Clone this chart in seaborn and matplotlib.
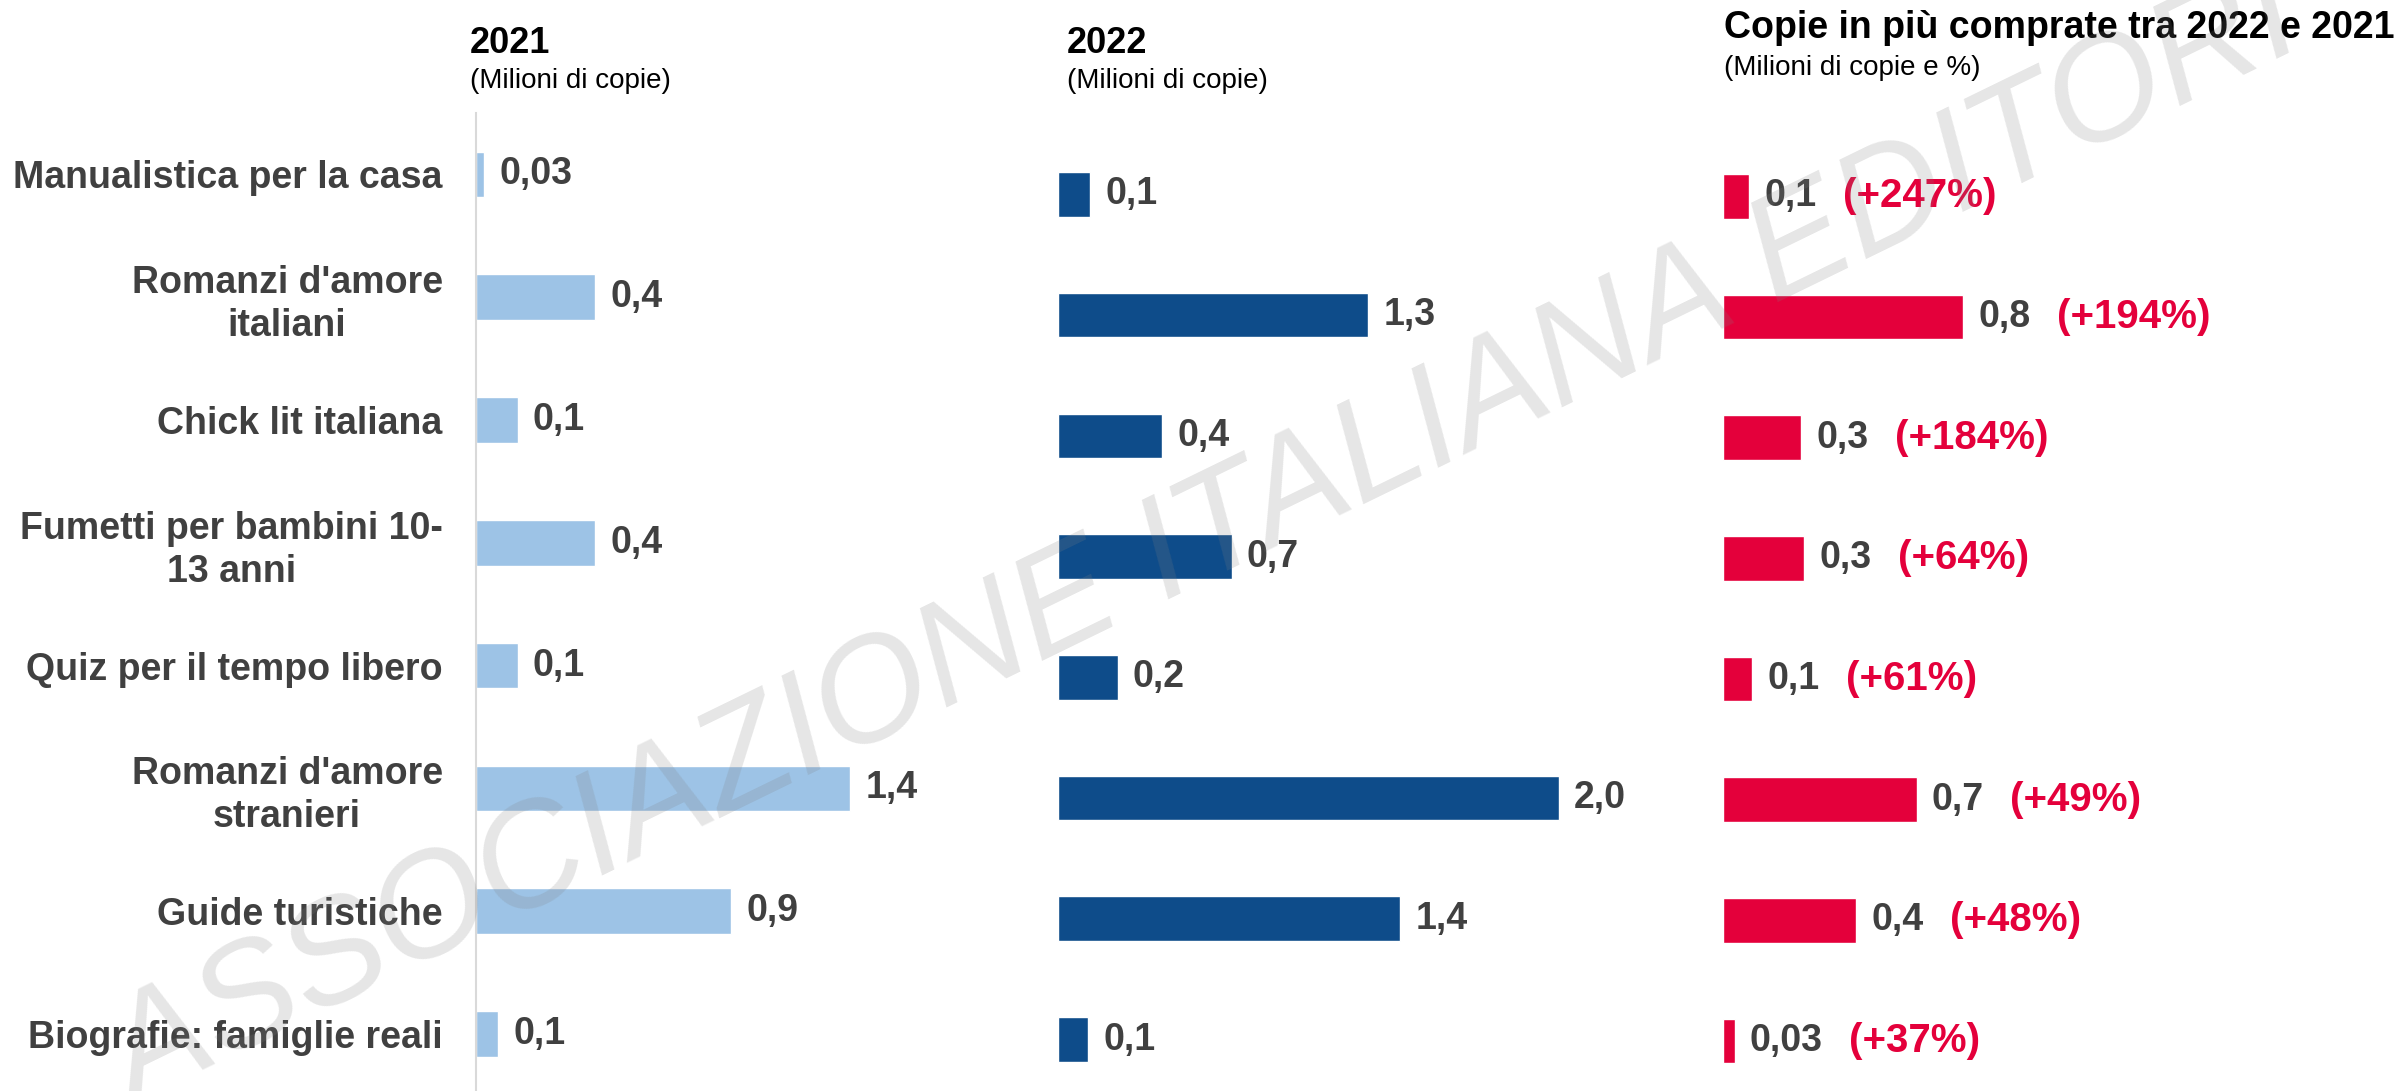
import matplotlib
matplotlib.use("Agg")
import matplotlib.pyplot as plt
import pandas as pd
import seaborn as sns

# values (millions of copies)
categories = ["Manualistica per la casa", "Romanzi d'amore\nitaliani", "Chick lit italiana",
              "Fumetti per bambini 10-\n13 anni", "Quiz per il tempo libero",
              "Romanzi d'amore\nstranieri", "Guide turistiche", "Biografie: famiglie reali"]
copies_2021 = [0.03, 0.43, 0.15, 0.43, 0.15, 1.35, 0.92, 0.08]
copies_2022 = [0.13, 1.25, 0.42, 0.70, 0.24, 2.02, 1.38, 0.12]
extra_copies = [0.09, 0.83, 0.27, 0.28, 0.10, 0.67, 0.46, 0.04]
labels_2021 = ["0,03", "0,4", "0,1", "0,4", "0,1", "1,4", "0,9", "0,1"]
labels_2022 = ["0,1", "1,3", "0,4", "0,7", "0,2", "2,0", "1,4", "0,1"]
labels_extra = ["0,1", "0,8", "0,3", "0,3", "0,1", "0,7", "0,4", "0,03"]
pct_extra = ["(+247%)", "(+194%)", "(+184%)", "(+64%)", "(+61%)", "(+49%)", "(+48%)", "(+37%)"]

GREY = "#404040"
RED = "#E4003B"

sns.set_style("white")
plt.rcParams["font.family"] = ["Liberation Sans", "DejaVu Sans"]

df = pd.DataFrame({"categoria": categories, "2021": copies_2021,
                   "2022": copies_2022, "diff": extra_copies})

fig = plt.figure(figsize=(23.97, 10.91), dpi=100)


def bar_panel(rect, col, colour, xmax, labels):
    """One horizontal bar panel with its own x scale."""
    ax = fig.add_axes(rect)
    sns.barplot(data=df, x=col, y="categoria", color=colour, width=0.37,
                saturation=1, ax=ax)
    ax.set_xlim(0, xmax)
    ax.set_ylim(7.5, -0.5)
    ax.set_xlabel("")
    ax.set_ylabel("")
    ax.set_xticks([])
    ax.set_yticks([])
    for s in ax.spines.values():
        s.set_visible(False)
    ax.patch.set_alpha(0)
    texts = ax.bar_label(ax.containers[0], labels=labels, padding=11,
                         fontsize=27, fontweight="bold", color=GREY)
    return ax, texts


ax1, _ = bar_panel([0.1986, -0.004, 0.2186, 0.9004], "2021", "#9DC3E6", 1.892, labels_2021)
ax2, _ = bar_panel([0.4414, -0.0082, 0.2678, 0.8854], "2022", "#0E4C8A", 2.589, labels_2022)
ax3, texts3 = bar_panel([0.7188, -0.0095, 0.2812, 0.8847], "diff", RED, 2.332, labels_extra)

# left axis of the first panel with category labels and separator ticks
ax1.spines["left"].set_visible(True)
ax1.spines["left"].set_color("#D9D9D9")
ax1.spines["left"].set_linewidth(1.5)
ax1.set_yticks(range(len(categories)), categories)
ax1.set_yticks([i - 0.5 for i in range(len(categories) + 1)], minor=True)
ax1.tick_params(axis="y", which="major", length=0, pad=24, labelsize=27, labelcolor=GREY)
ax1.tick_params(axis="y", which="minor", length=8, width=1.5, color="#D9D9D9")
for t in ax1.get_yticklabels():
    t.set_fontweight("bold")
    t.set_multialignment("center")
    t.set_linespacing(1.25)

# percentage change next to the value labels
for txt, pct in zip(texts3, pct_extra):
    ax3.annotate(pct, xy=(1, 0.5), xycoords=txt, xytext=(19, 0),
                 textcoords="offset points", ha="left", va="center",
                 fontsize=29, fontweight="bold", color=RED)

# panel headings
fig.text(0.1961, 0.9514, "2021", fontsize=26, fontweight="bold", color="black", va="baseline")
fig.text(0.1961, 0.9193, "(Milioni di copie)", fontsize=20, color="black", va="baseline")
fig.text(0.4451, 0.9514, "2022", fontsize=26, fontweight="bold", color="black", va="baseline")
fig.text(0.4451, 0.9193, "(Milioni di copie)", fontsize=20, color="black", va="baseline")
fig.text(0.7192, 0.9652, "Copie in più comprate tra 2022 e 2021", fontsize=27,
         fontweight="bold", color="black", va="baseline")
fig.text(0.7192, 0.9313, "(Milioni di copie e %)", fontsize=20, color="black", va="baseline")

# watermark
fig.text(0.503, 0.503, "ASSOCIAZIONE ITALIANA EDITORI", fontsize=106, style="italic",
         rotation=26, rotation_mode="anchor", ha="center", va="center",
         color="gray", alpha=0.2, zorder=10)

fig.savefig("out.png", dpi=100)
